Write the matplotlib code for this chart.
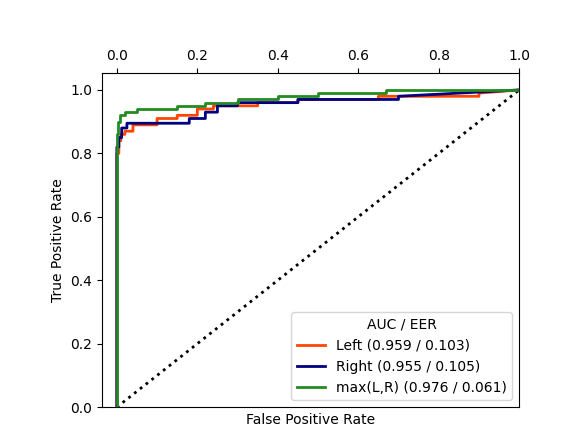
import matplotlib
matplotlib.use("Agg")
import matplotlib.pyplot as plt

left_fpr = [0, 0.0, 0.005, 0.005, 0.01, 0.01, 0.02, 0.02, 0.04, 0.04, 0.1, 0.1, 0.15, 0.15, 0.2, 0.2, 0.24, 0.24, 0.35, 0.35, 0.45, 0.45, 0.65, 0.65, 0.9, 0.9, 1.0]
left_tpr = [0, 0.80, 0.80, 0.84, 0.84, 0.86, 0.86, 0.87, 0.87, 0.89, 0.89, 0.91, 0.91, 0.92, 0.92, 0.94, 0.94, 0.95, 0.95, 0.96, 0.96, 0.97, 0.97, 0.98, 0.98, 0.99, 1.0]
right_fpr = [0, 0.0, 0.005, 0.005, 0.012, 0.012, 0.025, 0.025, 0.18, 0.18, 0.22, 0.22, 0.25, 0.25, 0.3, 0.3, 0.45, 0.45, 0.7, 0.7, 1.0]
right_tpr = [0, 0.82, 0.82, 0.85, 0.85, 0.88, 0.88, 0.895, 0.895, 0.91, 0.91, 0.93, 0.93, 0.95, 0.95, 0.96, 0.96, 0.97, 0.97, 0.98, 1.0]
max_fpr = [0, 0.0, 0.003, 0.003, 0.008, 0.008, 0.02, 0.02, 0.05, 0.05, 0.15, 0.15, 0.22, 0.22, 0.3, 0.3, 0.4, 0.4, 0.5, 0.5, 0.67, 0.67, 1.0]
max_tpr = [0, 0.86, 0.86, 0.90, 0.90, 0.92, 0.92, 0.93, 0.93, 0.94, 0.94, 0.95, 0.95, 0.96, 0.96, 0.97, 0.97, 0.98, 0.98, 0.99, 0.99, 1.0, 1.0]
labels = ["Left (0.959 / 0.103)", "Right (0.955 / 0.105)", "max(L,R) (0.976 / 0.061)"]
colors = ["#ff4500", "#000080", "#228b22"]

fig = plt.figure(figsize=(5.86, 4.44), dpi=100)
ax = fig.add_axes([0.174, 0.083, 0.712, 0.753])
ax.plot([0, 1], [0, 1], "k:", lw=2)
for x, y, l, c in zip([left_fpr, right_fpr, max_fpr], [left_tpr, right_tpr, max_tpr], labels, colors):
    ax.plot(x, y, color=c, lw=2, label=l)
ax.set_xlim(-0.037, 1.0)
ax.set_ylim(0, 1.054)
ax.xaxis.tick_top()
ax.set_xlabel("False Positive Rate")
ax.set_ylabel("True Positive Rate")
ax.legend(loc="lower right", title="AUC / EER")
fig.savefig("out.png", dpi=100)
